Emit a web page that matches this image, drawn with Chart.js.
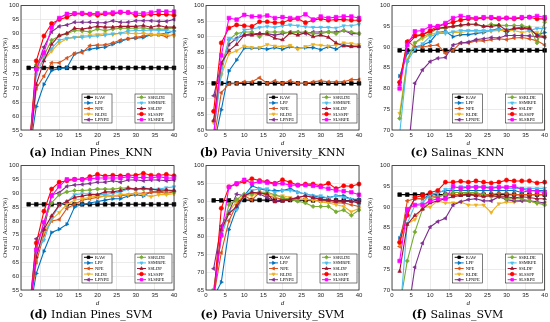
<!DOCTYPE html>
<html><head><meta charset="utf-8">
<script src="https://cdn.jsdelivr.net/npm/chart.js@4/dist/chart.umd.min.js"></script>
<style>
html,body{margin:0;padding:0;background:#fff;}
#wrap{position:relative;width:550px;height:322px;overflow:hidden;}
canvas{position:absolute;}
.cap{position:absolute;font-family:"DejaVu Serif",serif;font-size:11px;line-height:12px;color:#000;text-align:center;white-space:nowrap;transform:translateX(-50%);}
</style></head>
<body><div id="wrap"></div>
<script>
// ---- data ----
const dValues = [2,4,6,8,10,12,14,16,18,20,22,24,26,28,30,32,34,36,38,40];
const xTickLabels = [0,5,10,15,20,25,30,35,40];
const seriesNames = ['RAW','LPP','NPE','RLDE','LPNPE','SSRLDE','SSMRPE','SSLDP','SLSSPP','SLSRPE'];
const captionLetters = ['(a)','(b)','(c)','(d)','(e)','(f)'];
const captionTexts = ['Indian Pines_KNN','Pavia University_KNN','Salinas_KNN','Indian Pines_SVM','Pavia University_SVM','Salinas_SVM'];
const yMins = [55,60,70,55,65,70];

const indianPinesKNN = [
 [77.5,77.5,77.5,77.5,77.5,77.5,77.5,77.5,77.5,77.5,77.5,77.5,77.5,77.5,77.5,77.5,77.5,77.5,77.5,77.5],
 [45,63.5,71.5,76.5,77.2,77.5,82.5,83.5,84.2,84.7,85,86,87,88,88.2,88.5,89.5,89.5,90,90.8],
 [45,70,74.5,79.3,79.3,81,82.7,83,85.5,85.7,85.8,86.5,87.5,88,88.5,89,89.5,89.5,88.8,89.5],
 [45,77,80.5,83.5,86.5,88,88.5,89,89.2,89.5,89.8,89.5,90,90,89.8,90,89.5,89.5,89.5,89],
 [45,77,85,90.5,92.5,93,94,94,94,93.8,93.8,94.5,94,94,94.5,94.5,94.5,94.3,94.3,95],
 [45,78.5,82,87.5,89,89.8,91,90.8,90.5,91.5,91,91.5,91.8,91.8,91.8,92,91.5,91.5,91.5,92],
 [45,75,81,84.5,87.5,88.2,88.5,88.5,88.8,89,89.3,89.8,90,90.8,91,91,91.2,91,91,90.5],
 [45,71.5,80,86,89.2,90,91.8,91.5,92,92.5,92.2,92.2,92.5,92.5,92.5,92.8,92.2,92.8,92.2,92.2],
 [45,80,89,93.5,95,95.8,97,97,96.8,96.5,97,97,97.5,97.5,96.5,96.5,96.8,96.8,96.8,96.5],
 [45,77,83,92,95.5,97,97.2,97.3,97,97.2,97.3,97.5,97.7,97.5,97.3,97.2,97.5,98,97.8,97.8]
];
const paviaKNN = [
 [75,75,75,75,75,75,75,75,75,75,75,75,75,75,75,75,75,75,75,75],
 [55,66.5,79,82.5,86.3,86.3,86.3,86,86.5,86,86.8,86.3,86.5,86.5,85.8,86.8,86,87.3,87,87],
 [56,72,74.8,75,75.5,75.5,76.8,75,75.8,75,75.8,75,75,75.5,75.8,75.5,75.5,75.5,76.2,76.2],
 [62.3,77.5,84.5,85.5,87,86.5,86.5,87.5,87,86.8,87.2,86,86.8,87.5,87.2,87,87.3,88,87.8,87.5],
 [71,81,87.5,89.5,90.5,91,91,91,90.5,91,91.5,91.5,91,91.5,91.5,91.5,91.5,92,91,91],
 [63,80,89,91,91.5,91.5,90,91.5,91.5,91.5,91.3,91.5,91.5,91,91,91.5,91,92,91.5,91],
 [59,78,89.5,89,92.2,92.5,93,93.3,93,93.5,93.8,93.5,93.2,93,93,93,92.8,93.5,93.5,94],
 [63,81.5,85.5,87.5,90.5,90.5,91,90.8,89.5,89,91.2,90.5,91.3,90,90.5,89.8,88,87,86.8,86.8],
 [66,88,92.8,93.8,93.5,93.3,94.8,94.8,94.5,94.5,95.5,95.8,94.5,95.3,95.8,95.3,95.5,95.5,95.3,95.3],
 [58,84,96,95.5,97,96.5,96.5,96.8,96,96.3,96,96,97.2,95.5,96.5,96,96.3,96.5,96.5,96]
];
const salinasKNN = [
 [89.2,89.2,89.2,89.2,89.2,89.2,89.2,89.2,89.2,89.2,89.2,89.2,89.2,89.2,89.2,89.2,89.2,89.2,89.2,89.2],
 [83,88.5,90,90.5,91.3,93.5,93.8,92.5,93,93,93.3,93.5,94,94.5,93.5,94.5,94.8,94.5,93,93.5],
 [81.5,91.5,90,90,90.3,90.5,88.5,89.2,91,91,91.5,91.5,91.8,92,91.8,92.2,92.3,92,91.5,90.5],
 [74,87,91,92,93,93.5,93.5,93.5,93.5,93.8,93.8,93.8,93.8,94,94,94,93.5,93.8,93.5,92.5],
 [55,62.5,81.3,84.5,86.5,87.3,87.5,90.5,91,91.2,91.8,92,92.3,92.2,92.8,92.8,92.8,92.7,92.5,92.3],
 [72.8,86.5,91,92.5,93.3,94.5,94.5,95,95.2,95.5,95.5,95,95.5,95.3,95.2,95.2,95.2,94.8,91,96],
 [69,86.5,89.5,90.8,92.5,93.3,93.3,93.7,94,94,94,94,94,94.2,94.3,94.3,94.5,94,94.5,94.5],
 [81,90.5,92.5,93,93.8,94.5,94.8,95,95.3,95.5,95.5,95,95,95.3,94,94.5,94.5,94.5,92.8,92.5],
 [81.5,91.2,92.8,93,94,95,95.5,96,96.5,96.8,96.8,97,97,96.8,97,96.8,97,97.2,96.8,96.8],
 [80,90.5,93.8,94,95,95,95.8,97,97.5,97.2,97,97.2,97.2,97,97,97,97.2,97.2,97.5,97.2]
];
const indianPinesSVM = [
 [86,86,86,86,86,86,86,86,86,86,86,86,86,86,86,86,86,86,86,86],
 [45,61,69,75.8,77,78.8,85,86,86.5,87,87.5,88,88,89,89.5,89,90.5,90.5,91,91],
 [45,65,75,80,80.5,84.5,86,87.5,88,88.5,89,89,89,89.5,90,90,90.3,90.5,90,90.5],
 [45,67,76,80.5,83,86,87.5,88,88.5,89,88.8,89,89.5,89.5,90,89.5,88.8,89.5,89.5,89.8],
 [45,73.5,77,89.5,90.2,92.5,93,93.2,93.5,94,94,94.5,94,94.8,94.8,94.5,94.8,94.8,94.5,94.8],
 [45,70,79.5,86.5,89.5,90.5,91,91,91.2,91.5,91.5,91.5,91.8,92,91.5,91.5,91.5,91.2,91,90.5],
 [45,69,73,81,85.5,87,89.5,89.8,89.8,89.5,89.5,90,90.5,91.5,91.5,92,91.5,91.5,92,92.3],
 [45,67,77,81.8,85.8,87,88.5,89,89.5,89.5,90.5,90.5,91,91.8,91.5,91.8,91.5,91.2,91.2,91],
 [45,72,83.5,91.5,94,94.5,95,95,96,96.8,96.2,96.5,96.3,96.5,96.5,97.2,96.5,96.5,96.8,96.3],
 [45,69.5,79.5,89,92.5,95,95,95,95.2,95.5,95.5,95.5,95.5,96,95.5,95.8,95.5,96,95.5,95.5]
];
const paviaSVM = [
 [90.2,90.2,90.2,90.2,90.3,90.3,90.3,90.3,90.2,90.2,90.3,90.3,90.3,90.2,90.2,90.2,90.2,90.2,90.2,90.2],
 [63,67.2,82,88,91.5,94.3,93.5,93,93,93,93.5,92.5,92,91.5,91,91,91.5,91.5,90.5,90.5],
 [63,75.5,84.5,89,91.5,90.3,92.5,91.5,91,90.5,90.5,90.5,90.5,90.3,90.2,90,89.5,89.5,89,88.5],
 [65,80,87,90,91.5,91.5,92.3,92,91.5,91.5,91,90.5,90.5,90.3,89.8,89.5,89,88.5,87,88],
 [71,83,87,92,91.5,92.5,92,91,90,90.5,90.5,91,91.5,91,90.5,90.3,90,90,90,90],
 [65,80,89,90.5,92,92,92.5,92.5,91.8,91,90.5,90,89.5,88.5,88.5,88.5,87,87.5,86,87.5],
 [65,80,87,87.5,91.5,93,93.5,93.5,92.5,93,93,92.5,92,91.5,91.5,90.8,91.5,91,90.5,89],
 [63,82,86.5,88.5,91.5,92.5,92.3,92,89.8,90,90.5,91,91.5,91,90.5,90.3,90,90,90,89.5],
 [63,88,94,94.8,95.5,96.3,95.8,95.5,95,96,95.3,94.5,94.8,94.8,94.3,95,93.5,94.3,94.2,94.8],
 [63,80.5,94,95,96,95,95.5,95.2,94.8,95,94.5,94.5,94.5,94.3,94,93.5,93,92.8,92.5,91.8]
];
const salinasSVM = [
 [93,93,93,93,93,93,93,93,93,93,93,93,93,93,93,93,93,93,93,93],
 [82.5,89,92,92,93,93.5,94,94,94,94,94,94,94,94,94,94,93.5,94,94,94],
 [80.5,91.5,92,92,92.5,92.5,93,93,93,93.3,93,93,93,93.3,93.2,93,93,93,93,93],
 [81,86,87,90,90,91.5,91,91,91.2,90.5,90.5,90.5,88.7,90.8,91.2,91.2,91.5,91.5,90.8,91],
 [55,63,75.5,81.3,85.2,86.5,87.3,90.5,91.3,91.8,92,91.5,91.5,92.5,91.8,91.5,91.5,91.5,91.3,91],
 [66,77,84,89.5,92,92.5,93,93.5,93.5,93.5,93.5,93,92.5,92.5,92,92,92,91.5,91,90.5],
 [63,86,90.5,91,93,93.3,94.3,94.5,95,94.8,95,94.8,94.8,94.8,94.5,94.5,94.5,94.5,94.5,94.5],
 [74.5,85.8,88,89.5,91,91.5,92,92.5,92.8,93,92.8,92.5,92.8,92.5,92.5,92.2,92.5,92.3,92,92],
 [81.5,88,92.3,92.8,93.5,94,96,96,96.2,96,96.3,96,95.8,96,96.5,96.3,96.3,96.3,95.8,96],
 [77,89.5,90.5,90.5,91.5,92,92,95,94.5,94.8,94.8,94.8,94.5,94.8,94.8,95,94.3,94,93.8,93.5]
];
const panelData = [indianPinesKNN, paviaKNN, salinasKNN, indianPinesSVM, paviaSVM, salinasSVM];

// ---- styles ----
const colors = ['#000000','#0072BD','#D95319','#EDB120','#7E2F8E','#77AC30','#4DBEEE','#A2142F','#FF0000','#FF00FF'];
const markers = [['rect',0],['triangle',90],['triangle',-90],['triangle',180],['triangle',-90],['rectRot',0],['triangle',180],['triangle',0],['circle',0],['rect',0]];
const panelLeft = [0,180,365];
const panelWidth = [182,185,185];
const yAxisWidth = [21,26,27];
const rowTop = [0,160];
const topPad = [5,4];
const capY = [147,308.5];

function drawMarker(ctx, style, rot, x, y, r, color){
  ctx.save();
  ctx.fillStyle=color; ctx.strokeStyle=color; ctx.lineWidth=0.8;
  ctx.translate(x,y); ctx.rotate(rot*Math.PI/180);
  ctx.beginPath();
  if(style==='rect'){const s=r*Math.SQRT1_2; ctx.rect(-s,-s,2*s,2*s);}
  else if(style==='circle'){ctx.arc(0,0,r,0,Math.PI*2);}
  else if(style==='rectRot'){ctx.moveTo(0,-r);ctx.lineTo(r,0);ctx.lineTo(0,r);ctx.lineTo(-r,0);ctx.closePath();}
  else {const s=r*1.0; ctx.moveTo(0,-s);ctx.lineTo(s*0.866,s*0.5);ctx.lineTo(-s*0.866,s*0.5);ctx.closePath();}
  ctx.fill(); ctx.stroke();
  ctx.restore();
}

const frameAndLegend = {
  id:'frameAndLegend',
  afterDatasetsDraw(chart){
    const ctx=chart.ctx, a=chart.chartArea;
    ctx.save();
    ctx.strokeStyle='#262626'; ctx.lineWidth=0.8;
    ctx.strokeRect(a.left,a.top,a.right-a.left,a.bottom-a.top);
    const groups=[[0,1,2,3,4],[5,6,7,8,9]];
    const boxes=[{x:a.right-92,w:30},{x:a.right-39,w:37}];
    const h=29, top=a.bottom-7-h;
    groups.forEach((g,gi)=>{
      const b=boxes[gi];
      ctx.fillStyle='#fff'; ctx.fillRect(b.x,top,b.w,h);
      ctx.strokeStyle='#262626'; ctx.lineWidth=0.6; ctx.strokeRect(b.x,top,b.w,h);
      g.forEach((si,k)=>{
        const y=top+3.3+k*5.6;
        ctx.strokeStyle=colors[si]; ctx.lineWidth=1;
        ctx.beginPath(); ctx.moveTo(b.x+2,y); ctx.lineTo(b.x+11,y); ctx.stroke();
        drawMarker(ctx,markers[si][0],markers[si][1],b.x+6.5,y,1.8,colors[si]);
        ctx.fillStyle='#000'; ctx.font='4.6px "Liberation Serif"'; ctx.textBaseline='middle'; ctx.textAlign='left';
        ctx.fillText(seriesNames[si],b.x+13,y+0.3);
      });
    });
    ctx.restore();
  }
};

const wrap=document.getElementById('wrap');
for(let p=0;p<6;p++){
  const row=Math.floor(p/3), col=p%3;
  const cv=document.createElement('canvas');
  cv.width=panelWidth[col]; cv.height=148;
  cv.style.left=panelLeft[col]+'px'; cv.style.top=rowTop[row]+'px';
  cv.style.width=panelWidth[col]+'px'; cv.style.height='148px';
  wrap.appendChild(cv);
  const cap=document.createElement('div');
  cap.className='cap';
  cap.style.left=(panelLeft[col]+panelWidth[col]/2)+'px';
  cap.style.top=capY[row]+'px';
  cap.innerHTML='<b>'+captionLetters[p]+'</b> '+captionTexts[p];
  wrap.appendChild(cap);

  const n=seriesNames.length;
  const datasets=seriesNames.map((name,i)=>({
    label:name,
    data:dValues.map((d,j)=>({x:d,y:panelData[p][i][j]})),
    borderColor:colors[i], backgroundColor:colors[i],
    pointBackgroundColor:colors[i], pointBorderColor:colors[i],
    pointStyle:markers[i][0], pointRotation:markers[i][1],
    pointRadius: markers[i][0]==='rect'?2.6:2.1, pointBorderWidth:0.6,
    borderWidth:1.1, tension:0, fill:false,
    order:n-i,
    clip:{left:4,top:4,right:4,bottom:0}
  }));
  new Chart(cv,{
    type:'line',
    data:{datasets},
    options:{
      responsive:false, animation:false, devicePixelRatio:1,
      layout:{padding:{left:0,top:topPad[row],right:panelWidth[col]-yAxisWidth[col]-153,bottom:0}},
      plugins:{legend:{display:false},tooltip:{enabled:false}},
      scales:{
        x:{type:'linear',min:0,max:40,
           afterFit(s){s.height=18;},
           afterBuildTicks(s){s.ticks=xTickLabels.map(v=>({value:v}));},
           grid:{color:'#e2e2e2',lineWidth:0.7,drawTicks:false},
           border:{display:false},
           ticks:{font:{family:'Liberation Sans',size:6},color:'#262626',padding:2,maxRotation:0},
           title:{display:true,text:'d',font:{family:'Liberation Serif',size:7,style:'italic'},color:'#262626',padding:{top:0,bottom:1}}},
        y:{type:'linear',min:yMins[p],max:100,
           afterFit(s){s.width=yAxisWidth[col];},
           ticks:{stepSize:5,font:{family:'Liberation Sans',size:6},color:'#262626',padding:2},
           grid:{color:'#e2e2e2',lineWidth:0.7,drawTicks:false},
           border:{display:false},
           title:{display:true,text:'Overall Accuracy(%)',font:{family:'Liberation Serif',size:7},color:'#262626',padding:{top:1,bottom:0}}}
      }
    },
    plugins:[frameAndLegend]
  });
}
</script>
</body></html>
